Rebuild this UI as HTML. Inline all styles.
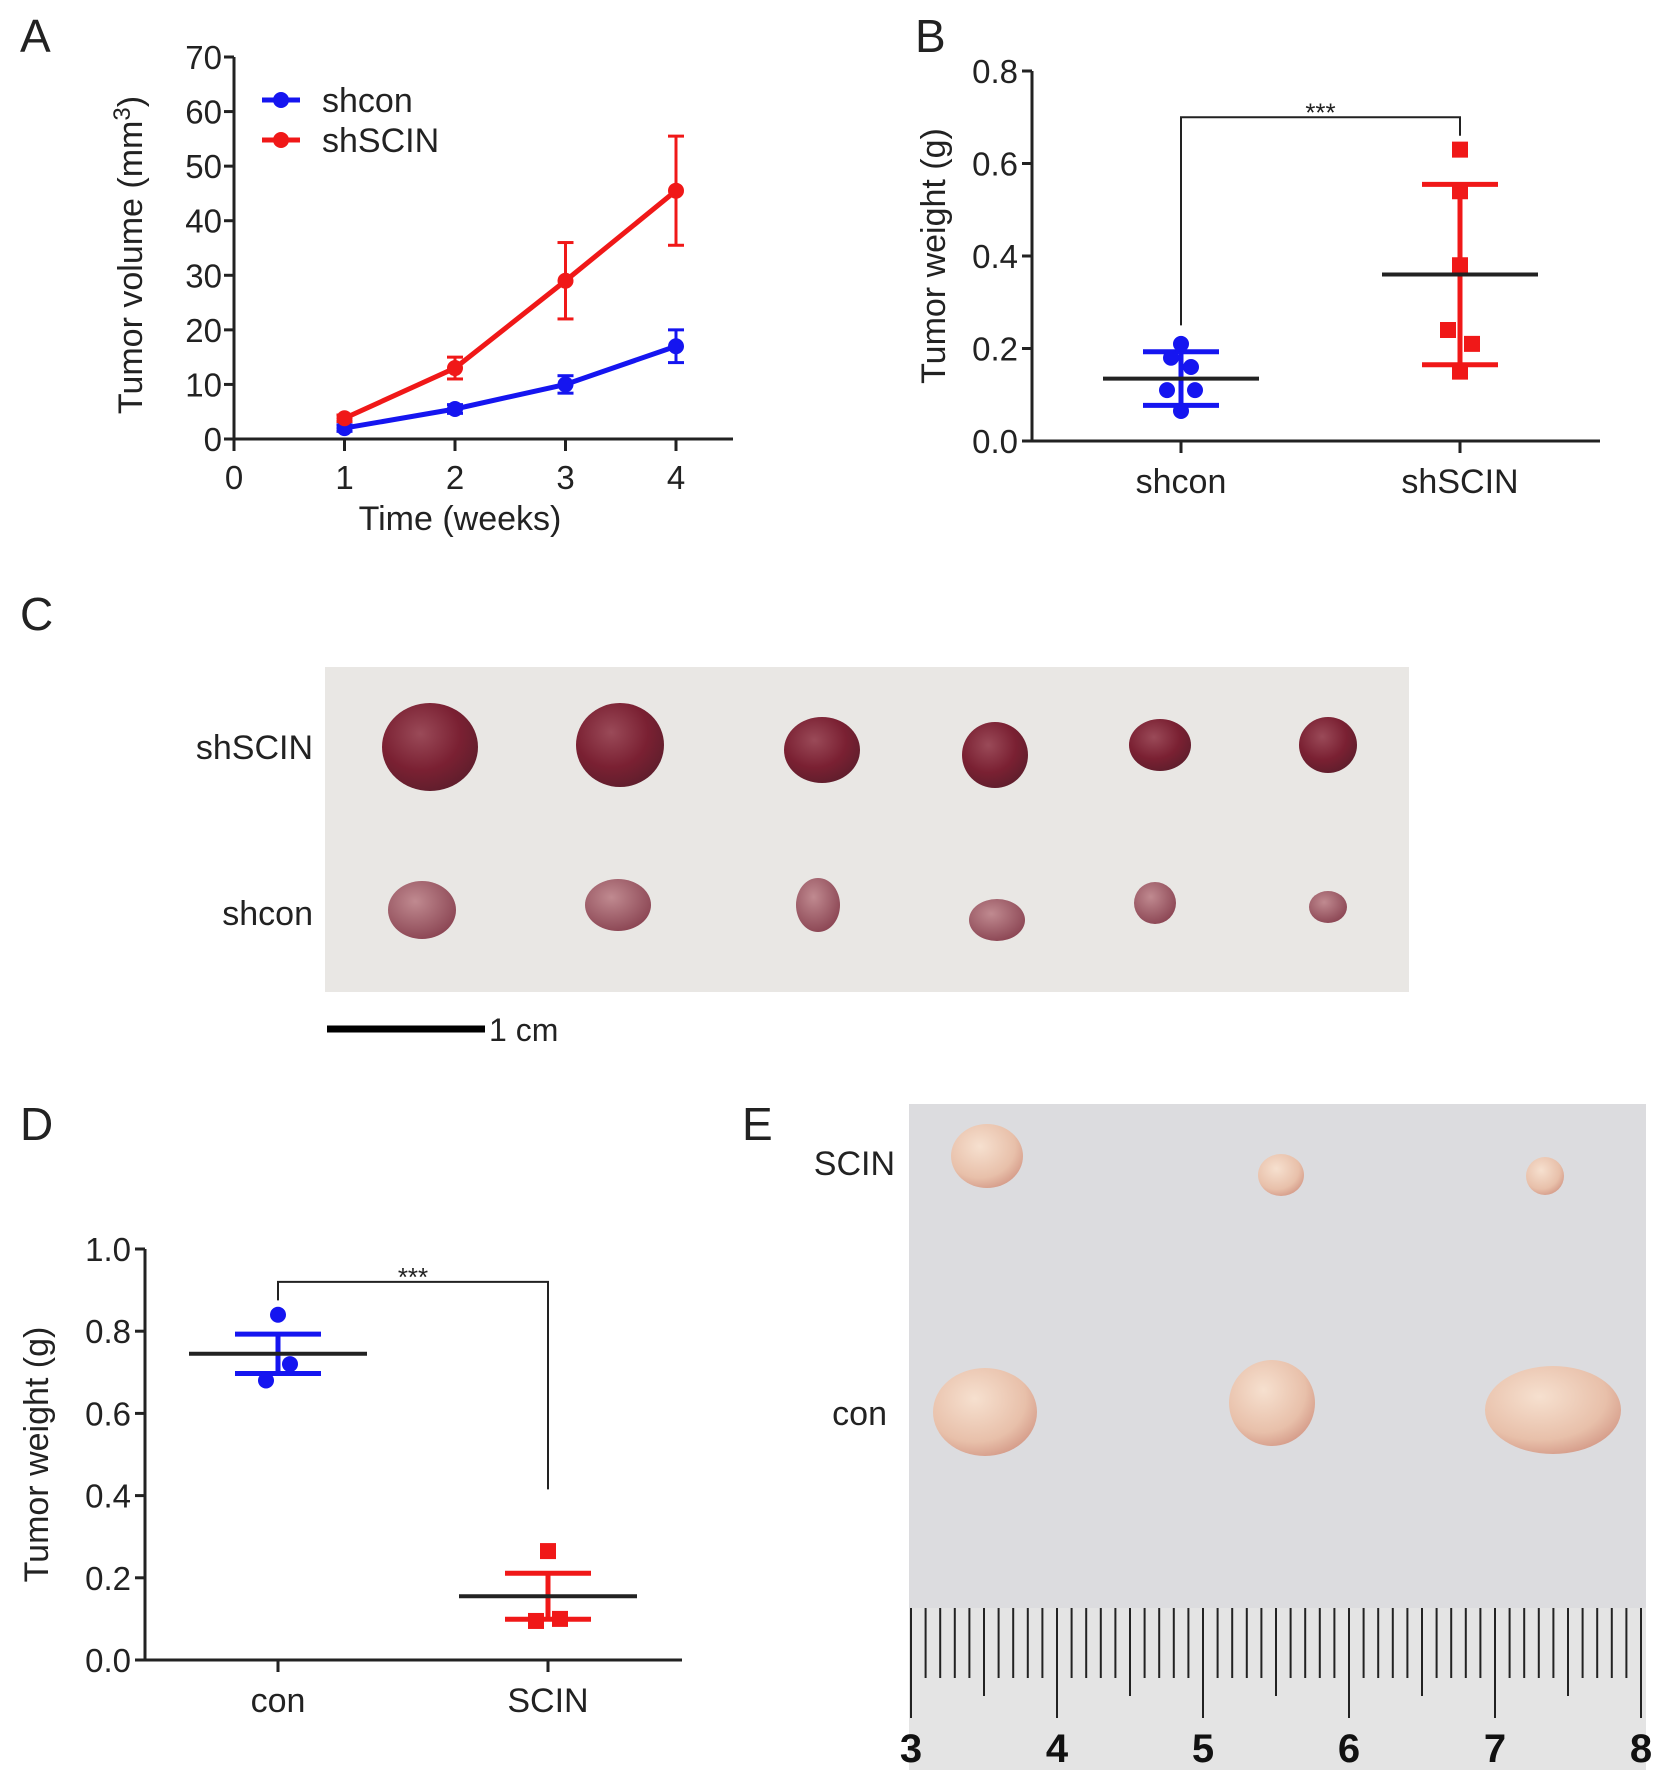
<!DOCTYPE html>
<html><head><meta charset="utf-8"><style>
html,body{margin:0;padding:0;background:#fff;}
svg{display:block;font-family:"Liberation Sans",Arial,sans-serif;}
</style></head><body>
<svg id="fig" width="1654" height="1788" viewBox="0 0 1654 1788" xmlns="http://www.w3.org/2000/svg">
<defs>
<radialGradient id="tumR" cx="40%" cy="35%" r="70%"><stop offset="0" stop-color="#9a4a58"/><stop offset="0.6" stop-color="#7a2032"/><stop offset="1" stop-color="#5e1e2c"/></radialGradient>
<radialGradient id="tumP" cx="40%" cy="35%" r="70%"><stop offset="0" stop-color="#c08a90"/><stop offset="1" stop-color="#8a4452"/></radialGradient>
<radialGradient id="tumE" cx="40%" cy="35%" r="70%"><stop offset="0" stop-color="#f6e0cf"/><stop offset="0.7" stop-color="#e8c0aa"/><stop offset="1" stop-color="#d49a88"/></radialGradient>
</defs>
<g id="pa"></g>
<g id="pb"></g>
<g id="pc"></g>
<g id="pd"></g>
<g id="pe"></g>
</svg>
<script>
// Panel A data
const weeks = [1, 2, 3, 4];
const shconVol = [2, 5.5, 10, 17];
const shconErr = [0.6, 0.8, 1.6, 3];
const shscinVol = [3.8, 13, 29, 45.5];
const shscinErr = [0.6, 2, 7, 10];
const aYTicks = [0, 10, 20, 30, 40, 50, 60, 70];
const aXTicks = [0, 1, 2, 3, 4];
// Panel B data
const bCats = ['shcon', 'shSCIN'];
const bShcon = [0.21, 0.18, 0.16, 0.11, 0.11, 0.065];
const bShscin = [0.63, 0.54, 0.38, 0.24, 0.21, 0.15];
const bMeans = [0.135, 0.36];
const bSD = [0.058, 0.195];
const bYTicks = ['0.0', '0.2', '0.4', '0.6', '0.8'];
// Panel D data
const dCats = ['con', 'SCIN'];
const dCon = [0.84, 0.72, 0.68];
const dScin = [0.265, 0.095, 0.1];
const dMeans = [0.745, 0.155];
const dSEM = [0.048, 0.056];
const dYTicks = ['0.0', '0.2', '0.4', '0.6', '0.8', '1.0'];
const ruler = ['3', '4', '5', '6', '7', '8'];

const NS = 'http://www.w3.org/2000/svg';
function mk(parent, tag, attrs, text) {
  const e = document.createElementNS(NS, tag);
  for (const k in attrs) e.setAttribute(k, attrs[k]);
  if (text !== undefined) e.textContent = text;
  parent.appendChild(e);
  return e;
}
const BLUE = '#1515f0', RED = '#f01818', DARK = '#222';

// ---------- Panel A ----------
(function () {
  const g = document.getElementById('pa');
  const x0 = 234, x1 = 733, yB = 439, yT = 57;
  const xs = v => 234 + v * 110.5;
  const ys = v => yB - (v / 70) * (yB - yT);
  let t = mk(g, 'text', { x: 20, y: 52, 'font-size': 46, fill: DARK }, 'A');
   
  let ax = mk(g, 'line', { x1: x0, y1: yT, x2: x0, y2: yB, stroke: DARK, 'stroke-width': 3 });
   
  ax = mk(g, 'line', { x1: x0 - 10, y1: yB, x2: x1, y2: yB, stroke: DARK, 'stroke-width': 3 });
   
  aYTicks.forEach(v => {
    mk(g, 'line', { x1: x0 - 10, y1: ys(v), x2: x0, y2: ys(v), stroke: DARK, 'stroke-width': 3 });
    const tt = mk(g, 'text', { x: x0 - 12, y: ys(v) + 12, 'font-size': 33, 'text-anchor': 'end', fill: DARK }, String(v));
     
  });
  aXTicks.forEach(v => {
    mk(g, 'line', { x1: xs(v), y1: yB, x2: xs(v), y2: yB + 12, stroke: DARK, 'stroke-width': 3 });
    const tt = mk(g, 'text', { x: xs(v), y: yB + 50, 'font-size': 33, 'text-anchor': 'middle', fill: DARK }, String(v));
     
  });
  t = mk(g, 'text', { x: 460, y: 530, 'font-size': 34, 'text-anchor': 'middle', fill: DARK }, 'Time (weeks)');
   
  t = mk(g, 'text', { transform: 'translate(142,255) rotate(-90)', 'font-size': 34, 'text-anchor': 'middle', fill: DARK });
   
  t.innerHTML = 'Tumor volume (mm<tspan dy="-12" font-size="24">3</tspan><tspan dy="12">)</tspan>';
  function series(vals, errs, col, name) {
    const sg = mk(g, 'g', {});
     
    vals.forEach((v, i) => {
      const x = xs(weeks[i]);
      mk(sg, 'line', { x1: x, y1: ys(v - errs[i]), x2: x, y2: ys(v + errs[i]), stroke: col, 'stroke-width': 3 });
      [v - errs[i], v + errs[i]].forEach(e => mk(sg, 'line', { x1: x - 8, y1: ys(e), x2: x + 8, y2: ys(e), stroke: col, 'stroke-width': 3 }));
    });
    mk(sg, 'polyline', { points: vals.map((v, i) => xs(weeks[i]) + ',' + ys(v)).join(' '), fill: 'none', stroke: col, 'stroke-width': 5 });
    vals.forEach((v, i) => {
      const c = mk(sg, 'circle', { cx: xs(weeks[i]), cy: ys(v), r: 8, fill: col });
       
    });
  }
  series(shconVol, shconErr, BLUE, 'series-shcon');
  series(shscinVol, shscinErr, RED, 'series-shscin');
  [['shcon', BLUE, 100], ['shSCIN', RED, 140]].forEach(([n, c, y]) => {
    const lg = mk(g, 'g', {});
     
    mk(lg, 'line', { x1: 262, y1: y, x2: 300, y2: y, stroke: c, 'stroke-width': 5 });
    mk(lg, 'circle', { cx: 281, cy: y, r: 8, fill: c });
    mk(lg, 'text', { x: 322, y: y + 12, 'font-size': 34, fill: DARK }, n);
  });
})();

// ---------- scatter panels ----------
function scatter(gid, o) {
  const g = document.getElementById(gid);
  const ys = v => o.yB - (v / o.yMax) * (o.yB - o.yT);
  let t = mk(g, 'text', { x: o.lx, y: o.ly, 'font-size': 46, fill: DARK }, o.letter);
   
  let ax = mk(g, 'line', { x1: o.x0, y1: o.yT, x2: o.x0, y2: o.yB, stroke: DARK, 'stroke-width': 3 });
   
  ax = mk(g, 'line', { x1: o.x0 - 10, y1: o.yB, x2: o.x1, y2: o.yB, stroke: DARK, 'stroke-width': 3 });
   
  o.ticks.forEach(s => {
    const v = parseFloat(s);
    mk(g, 'line', { x1: o.x0 - 10, y1: ys(v), x2: o.x0, y2: ys(v), stroke: DARK, 'stroke-width': 3 });
    const tt = mk(g, 'text', { x: o.x0 - 14, y: ys(v) + 12, 'font-size': 33, 'text-anchor': 'end', fill: DARK }, s);
     
  });
  o.cats.forEach((c, i) => {
    const x = o.cx[i];
    mk(g, 'line', { x1: x, y1: o.yB, x2: x, y2: o.yB + 12, stroke: DARK, 'stroke-width': 3 });
    const tt = mk(g, 'text', { x: x, y: o.yB + 52, 'font-size': 34, 'text-anchor': 'middle', fill: DARK }, c);
     
  });
  t = mk(g, 'text', { transform: 'translate(' + o.tx + ',' + ((o.yT + o.yB) / 2) + ') rotate(-90)', 'font-size': 34, 'text-anchor': 'middle', fill: DARK }, 'Tumor weight (g)');
   
  const groups = [[o.g1, BLUE, 'circle'], [o.g2, RED, 'square']];
  groups.forEach(([vals, col, shape], i) => {
    const x = o.cx[i];
    const sg = mk(g, 'g', {});
     
    const lo = o.means[i] - o.err[i], hi = o.means[i] + o.err[i];
    mk(sg, 'line', { x1: x, y1: ys(lo), x2: x, y2: ys(hi), stroke: col, 'stroke-width': 5 });
    [lo, hi].forEach(e => mk(sg, 'line', { x1: x - o.ew, y1: ys(e), x2: x + o.ew, y2: ys(e), stroke: col, 'stroke-width': 5 }));
    vals.forEach((v, k) => {
      const px = x + o.off[i][k];
      let m;
      if (shape === 'circle') m = mk(sg, 'circle', { cx: px, cy: ys(v), r: 8, fill: col });
      else m = mk(sg, 'rect', { x: px - 8, y: ys(v) - 8, width: 16, height: 16, fill: col });
       
    });
    const ml = mk(sg, 'line', { x1: x - o.mw, y1: ys(o.means[i]), x2: x + o.mw, y2: ys(o.means[i]), stroke: DARK, 'stroke-width': 4 });
     
  });
  const br = mk(g, 'polyline', { points: o.cx[0] + ',' + ys(o.br[1]) + ' ' + o.cx[0] + ',' + ys(o.br[0]) + ' ' + o.cx[1] + ',' + ys(o.br[0]) + ' ' + o.cx[1] + ',' + ys(o.br[2]), fill: 'none', stroke: DARK, 'stroke-width': 2 });
   
  t = mk(g, 'text', { x: (o.cx[0] + o.cx[1]) / 2, y: ys(o.br[0]) + 4, 'font-size': 26, 'text-anchor': 'middle', fill: DARK }, '***');
   
}
scatter('pb', { letter: 'B', lx: 915, ly: 52, x0: 1032, x1: 1600, yB: 441, yT: 71, yMax: 0.8, ticks: bYTicks, cats: bCats, cx: [1181, 1460], tx: 945,
  g1: bShcon, g2: bShscin, means: bMeans, err: bSD, ew: 38, mw: 78,
  off: [[0, -10, 10, -14, 14, 0], [0, 0, 0, -12, 12, 0]], br: [0.7, 0.25, 0.66] });
scatter('pd', { letter: 'D', lx: 20, ly: 1140, x0: 145, x1: 682, yB: 1660, yT: 1249, yMax: 1.0, ticks: dYTicks, cats: dCats, cx: [278, 548], tx: 48,
  g1: dCon, g2: dScin, means: dMeans, err: dSEM, ew: 43, mw: 89,
  off: [[0, 12, -12], [0, -12, 12]], br: [0.92, 0.875, 0.415] });

// ---------- Panel C (photo) ----------
const cRowTop = [[430,747,48,44],[620,745,44,42],[822,750,38,33],[995,755,33,33],[1160,745,31,26],[1328,745,29,28]];
const cRowBot = [[422,910,34,29],[618,905,33,26],[818,905,22,27],[997,920,28,21],[1155,903,21,21],[1328,907,19,16]];
(function () {
  const g = document.getElementById('pc');
  let t = mk(g, 'text', { x: 20, y: 630, 'font-size': 46, fill: DARK }, 'C');
   
  const r = mk(g, 'rect', { x: 325, y: 667, width: 1084, height: 325, fill: '#e9e7e4' });
   
  cRowTop.forEach(([x, y, rx, ry]) => {
    const e = mk(g, 'ellipse', { cx: x, cy: y, rx: rx, ry: ry, fill: 'url(#tumR)' });
     
  });
  cRowBot.forEach(([x, y, rx, ry]) => {
    const e = mk(g, 'ellipse', { cx: x, cy: y, rx: rx, ry: ry, fill: 'url(#tumP)' });
     
  });
  t = mk(g, 'text', { x: 313, y: 759, 'font-size': 34, 'text-anchor': 'end', fill: DARK }, 'shSCIN');
   
  t = mk(g, 'text', { x: 313, y: 925, 'font-size': 34, 'text-anchor': 'end', fill: DARK }, 'shcon');
   
  const sb = mk(g, 'line', { x1: 327, y1: 1029, x2: 485, y2: 1029, stroke: '#000', 'stroke-width': 7 });
   
  t = mk(g, 'text', { x: 489, y: 1041, 'font-size': 32, fill: DARK }, '1 cm');
   
})();

// ---------- Panel E (photo) ----------
const eRowTop = [[987,1156,36,32],[1281,1175,23,21],[1545,1176,19,19]];
const eRowBot = [[985,1412,52,44],[1272,1403,43,43],[1553,1410,68,44]];
(function () {
  const g = document.getElementById('pe');
  let t = mk(g, 'text', { x: 742, y: 1140, 'font-size': 46, fill: DARK }, 'E');
   
  const r = mk(g, 'rect', { x: 909, y: 1104, width: 737, height: 666, fill: '#dcdcdf' });
   
  mk(g, 'rect', { x: 909, y: 1608, width: 737, height: 162, fill: '#e4e4e4' });
  eRowTop.concat(eRowBot).forEach(([x, y, rx, ry]) => {
    const e = mk(g, 'ellipse', { cx: x, cy: y, rx: rx, ry: ry, fill: 'url(#tumE)' });
     
  });
  const rg = mk(g, 'g', {});
   
  const cm = 146, x3 = 911;
  for (let i = 0; i <= 50; i++) {
    const x = x3 + i * cm / 10;
    if (x > 1644) break;
    const len = i % 10 === 0 ? 110 : (i % 5 === 0 ? 88 : 70);
    mk(rg, 'line', { x1: x, y1: 1608, x2: x, y2: 1608 + len, stroke: '#222', 'stroke-width': 2 });
  }
  ruler.forEach((s, i) => {
    mk(rg, 'text', { x: x3 + i * cm, y: 1762, 'font-size': 40, 'font-weight': 'bold', 'text-anchor': 'middle', fill: '#111' }, s);
  });
  t = mk(g, 'text', { x: 895, y: 1175, 'font-size': 34, 'text-anchor': 'end', fill: DARK }, 'SCIN');
   
  t = mk(g, 'text', { x: 887, y: 1425, 'font-size': 34, 'text-anchor': 'end', fill: DARK }, 'con');
   
})();
</script>
</body></html>
